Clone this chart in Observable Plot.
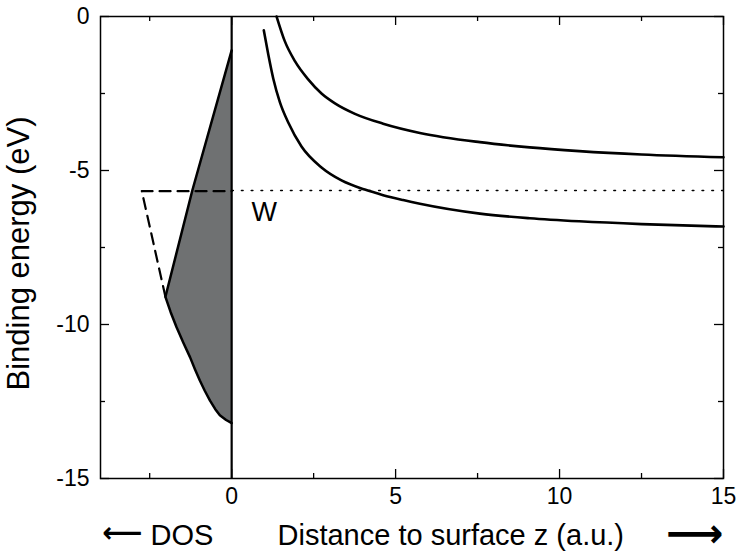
<!DOCTYPE html>
<html>
<head>
<meta charset="utf-8">
<script src="https://cdn.jsdelivr.net/npm/d3@7"></script>
<script src="https://cdn.jsdelivr.net/npm/@observablehq/plot@0.6"></script>
<style>
  html, body { margin: 0; padding: 0; background: #fff; }
  svg { font-family: "Liberation Sans", Arial, sans-serif; }
</style>
</head>
<body>
<div id="chart"></div>
<script>
// ---- data ----
const W = -5.65;                       // Fermi level / work function energy (eV)
const fermiX = [0, 15];                // dotted line extent (z)
// DOS shaded region (negative x = DOS axis), listed by energy:
// curved band bottom up to the kink, then straight up to the top
const dosX = [0, -0.05, -0.17, -0.36, -0.5, -0.66, -0.82, -0.97, -1.12, -1.27, -1.47, -1.68, -1.86, -2.02, -1.2, 0];
const dosE = [-13.2, -13.17, -13.1, -12.95, -12.75, -12.47, -12.15, -11.82, -11.45, -11.06, -10.6, -10.09, -9.6, -9.1, -5.65, -1.1];
// dashed continuation of the DOS up to the Fermi level
const dashX = [-2.02, -2.74, 0];
const dashE = [-9.1, -5.67, -5.67];
// upper image-potential curve
const upZ = [1.37, 1.62, 1.93, 2.34, 2.74, 3.15, 3.76, 4.62, 5.74, 7.57, 9.09, 10.6, 12.5, 15];
const upE = [0, -0.80, -1.45, -2.05, -2.50, -2.82, -3.16, -3.48, -3.78, -4.08, -4.25, -4.37, -4.48, -4.57];
// lower image-potential curve
const loZ = [0.98, 1.12, 1.27, 1.47, 1.73, 2.13, 2.74, 3.35, 4.06, 4.62, 5.23, 5.74, 7.57, 9.09, 10.6, 12.5, 15];
const loE = [-0.45, -1.25, -2.02, -2.78, -3.45, -4.22, -4.90, -5.32, -5.62, -5.80, -5.96, -6.08, -6.40, -6.55, -6.65, -6.74, -6.82];
// axes
const xMajor = [0, 5, 10, 15];
const xMinor = [-2.5, 2.5, 7.5, 12.5];
const yMajor = [0, -5, -10, -15];
const yMinor = [-2.5, -7.5, -12.5];
const xLabel = "Distance to surface z (a.u.)";
const yLabel = "Binding energy (eV)";
const dosLabel = "DOS";
const wLabel = "W";
const wPos = {z: 0.99, e: -6.37};

const toPts = (xs, ys) => xs.map((x, i) => ({x, y: ys[i]}));
const dos = toPts(dosX, dosE);
const dash = toPts(dashX, dashE);
const up = toPts(upZ, upE);
const lo = toPts(loZ, loE);
const fermi = fermiX.map(x => ({x, y: W}));

const font = 23;
const labelFont = 29;
const fw = 742 - 100 - 19;   // frame width
const fh = 555 - 16 - 77;    // frame height
const tickStyle = {stroke: "#000", strokeWidth: 1.3};
const chart = Plot.plot({
  width: 742,
  height: 555,
  marginLeft: 100,
  marginRight: 19,
  marginTop: 16,
  marginBottom: 77,
  x: {domain: [-4, 15]},
  y: {domain: [-15, 0]},
  style: {fontSize: font + "px", fontFamily: "Liberation Sans, Arial, sans-serif", color: "#000"},
  marks: [
    // shaded DOS
    Plot.areaX(dos, {x: "x", y: "y", fill: "#6f7172"}),
    Plot.line(dos, {x: "x", y: "y", stroke: "#000", strokeWidth: 2.5, strokeLinejoin: "round"}),
    Plot.line(dash, {x: "x", y: "y", stroke: "#000", strokeWidth: 2.2, strokeDasharray: "11 7"}),
    Plot.line(fermi, {x: "x", y: "y", stroke: "#000", strokeWidth: 1.6, strokeDasharray: "1.6 8.2"}),
    Plot.ruleX([0], {stroke: "#000", strokeWidth: 2.2}),
    Plot.line(up, {x: "x", y: "y", curve: "monotone-x", stroke: "#000", strokeWidth: 2.6}),
    Plot.line(lo, {x: "x", y: "y", curve: "monotone-x", stroke: "#000", strokeWidth: 2.6}),
    Plot.text([wLabel], {x: wPos.z, y: wPos.e, text: d => d, fontSize: 27, fill: "#000"}),
    Plot.frame({stroke: "#000", strokeWidth: 1.5}),
    // inward ticks on all four sides
    Plot.tickX(xMajor, {x: d => d, insetTop: fh - 9, ...tickStyle}),
    Plot.tickX(xMinor, {x: d => d, insetTop: fh - 5, ...tickStyle}),
    Plot.tickX(xMajor, {x: d => d, insetBottom: fh - 9, ...tickStyle}),
    Plot.tickX(xMinor, {x: d => d, insetBottom: fh - 5, ...tickStyle}),
    Plot.tickY(yMajor, {y: d => d, insetRight: fw - 9, ...tickStyle}),
    Plot.tickY(yMinor, {y: d => d, insetRight: fw - 5, ...tickStyle}),
    Plot.tickY(yMajor, {y: d => d, insetLeft: fw - 9, ...tickStyle}),
    Plot.tickY(yMinor, {y: d => d, insetLeft: fw - 5, ...tickStyle}),
    // tick labels
    Plot.axisX(xMajor, {anchor: "bottom", tickSize: 0, tickPadding: 9, fontSize: font, label: null}),
    Plot.axisY(yMajor, {anchor: "left", tickSize: 0, tickPadding: 11, fontSize: font, label: null, tickFormat: d => d}),
    // axis labels
    Plot.text([yLabel], {frameAnchor: "left", dx: -81, dy: 6, rotate: -90, textAnchor: "middle", text: d => d, fontSize: 31, fill: "#000"}),
    Plot.text([xLabel], {frameAnchor: "bottom-left", dx: 177, dy: 66, textAnchor: "start", text: d => d, fontSize: labelFont, fill: "#000"}),
    Plot.text([dosLabel], {frameAnchor: "bottom-left", dx: 50, dy: 66, textAnchor: "start", text: d => d, fontSize: labelFont, fill: "#000"}),
    Plot.text(["\u27F5"], {frameAnchor: "bottom-left", dx: 2, dy: 63, textAnchor: "start", text: d => d, fontSize: 28, fill: "#000", fontWeight: "bold", fontFamily: "DejaVu Sans"}),
    Plot.text(["\u27F6"], {frameAnchor: "bottom-right", dx: 0, dy: 68, textAnchor: "end", text: d => d, fontSize: 40, fill: "#000", fontWeight: "bold", fontFamily: "DejaVu Sans"})
  ]
});
document.getElementById("chart").appendChild(chart);
</script>
</body>
</html>
